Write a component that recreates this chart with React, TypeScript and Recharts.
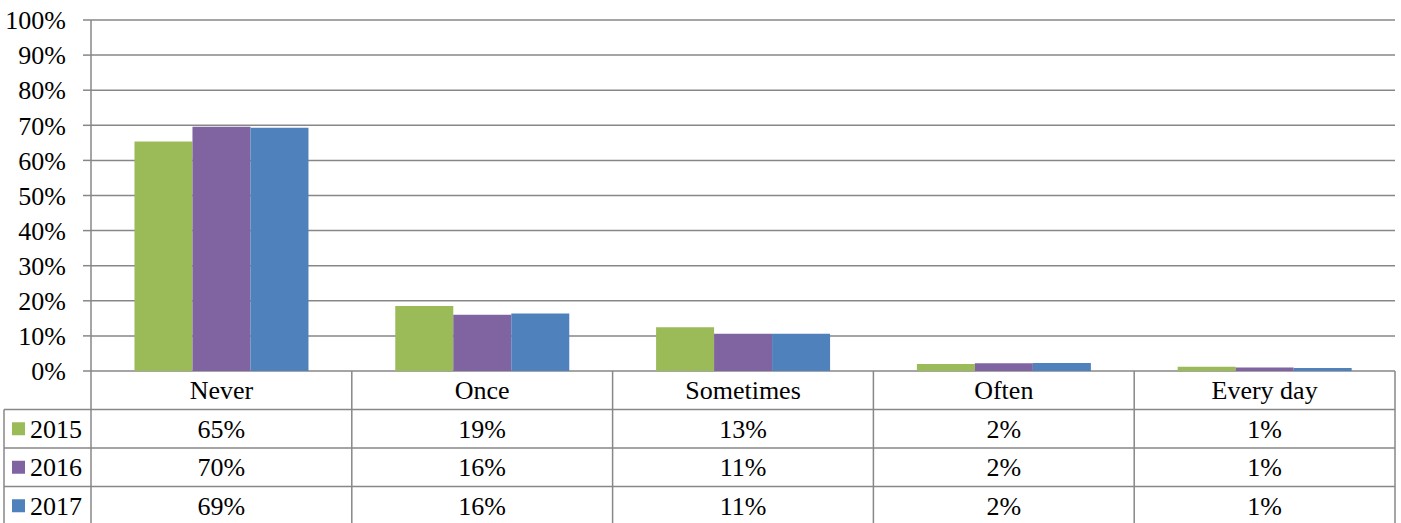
import React from 'react';
import { BarChart, Bar, XAxis, YAxis, CartesianGrid } from 'recharts';

const categories = ['Never', 'Once', 'Sometimes', 'Often', 'Every day'];
const seriesNames = ['2015', '2016', '2017'];
const seriesColors = ['#9BBB59', '#8064A2', '#4F81BD'];
const values2015 = [65.4, 18.5, 12.5, 2.0, 1.2];
const values2016 = [69.6, 16.0, 10.6, 2.2, 1.0];
const values2017 = [69.3, 16.4, 10.6, 2.3, 0.85];
const yTicks = [0, 10, 20, 30, 40, 50, 60, 70, 80, 90, 100];

const seriesValues = [values2015, values2016, values2017];
const seriesKeys = ['s2015', 's2016', 's2017'];

const data = categories.map((c, i) => ({
  category: c,
  s2015: values2015[i],
  s2016: values2016[i],
  s2017: values2017[i],
}));

const W = 1401;
const H = 523;
const MARGIN = { top: 20, right: 6, left: 0, bottom: 0 };
const Y_AXIS_W = 91;
const X_AXIS_H = 152;
const LINE = '#878787';
const LW = 1.5;
const FONT = "'Liberation Serif', 'Times New Roman', serif";
const FS = 26;
const ROW_H = 38.5;
const LEGEND_W = 87;
const PLOT_W = W - MARGIN.left - MARGIN.right - Y_AXIS_W;

function TableTick(props: any) {
  const { x, y, payload } = props;
  const i: number = payload.index ?? props.index ?? 0;
  const half: number = payload.offset || PLOT_W / categories.length / 2;
  const left = x - half;
  const right = x + half;
  const bottom = y + ROW_H * 4 + 10;
  const els: React.ReactNode[] = [];
  els.push(<line key="vr" x1={right} x2={right} y1={y} y2={bottom} stroke={LINE} strokeWidth={LW} />);
  if (i === 0) {
    els.push(<line key="vl" x1={left} x2={left} y1={y} y2={bottom} stroke={LINE} strokeWidth={LW} />);
  }
  for (let r = 1; r <= 3; r++) {
    const yy = y + ROW_H * r;
    els.push(<line key={'h' + r} x1={left} x2={right} y1={yy} y2={yy} stroke={LINE} strokeWidth={LW} />);
  }
  els.push(
    <text key="cat" x={x} y={y + 28} textAnchor="middle" fontFamily={FONT} fontSize={FS} fill="#000">
      {payload.value}
    </text>
  );
  seriesValues.forEach((vals, s) => {
    const rowTop = y + ROW_H * (s + 1);
    els.push(
      <text key={'v' + s} x={x} y={rowTop + 28} textAnchor="middle" fontFamily={FONT} fontSize={FS} fill="#000">
        {Math.round(vals[i]) + '%'}
      </text>
    );
  });
  if (i === 0) {
    const lx = left - LEGEND_W;
    els.push(<line key="lvl" x1={lx} x2={lx} y1={y + ROW_H} y2={bottom} stroke={LINE} strokeWidth={LW} />);
    for (let r = 1; r <= 3; r++) {
      const yy = y + ROW_H * r;
      els.push(<line key={'lh' + r} x1={lx} x2={left} y1={yy} y2={yy} stroke={LINE} strokeWidth={LW} />);
    }
    seriesNames.forEach((name, s) => {
      const rowTop = y + ROW_H * (s + 1);
      els.push(
        <rect key={'lsq' + s} x={lx + 8} y={rowTop + ROW_H / 2 - 6.5} width={13} height={13} fill={seriesColors[s]} />
      );
      els.push(
        <text key={'lt' + s} x={lx + 26} y={rowTop + 28} textAnchor="start" fontFamily={FONT} fontSize={FS} fill="#000">
          {name}
        </text>
      );
    });
  }
  return <g>{els}</g>;
}

export default function App() {
  return (
    <div style={{ position: 'absolute', left: 0, top: 0, width: W, height: H, background: '#fff' }}>
      <BarChart
        width={W}
        height={H}
        data={data}
        margin={MARGIN}
        barCategoryGap="16.67%"
        barGap={0}
      >
        <CartesianGrid vertical={false} stroke={LINE} strokeWidth={LW} />
        <XAxis
          dataKey="category"
          height={X_AXIS_H}
          axisLine={false}
          tickLine={false}
          tickSize={0}
          tickMargin={0}
          interval={0}
          tick={<TableTick />}
        />
        <YAxis
          width={Y_AXIS_W}
          domain={[0, 100]}
          ticks={yTicks}
          interval={0}
          tickFormatter={(v: number) => v + '%'}
          axisLine={{ stroke: LINE, strokeWidth: LW }}
          tickLine={{ stroke: LINE, strokeWidth: LW }}
          tickSize={8}
          tickMargin={17}
          tick={{ fill: '#000', fontSize: FS, fontFamily: FONT }}
        />
        {seriesKeys.map((k, s) => (
          <Bar key={k} dataKey={k} name={seriesNames[s]} fill={seriesColors[s]} isAnimationActive={false} />
        ))}
      </BarChart>
    </div>
  );
}
